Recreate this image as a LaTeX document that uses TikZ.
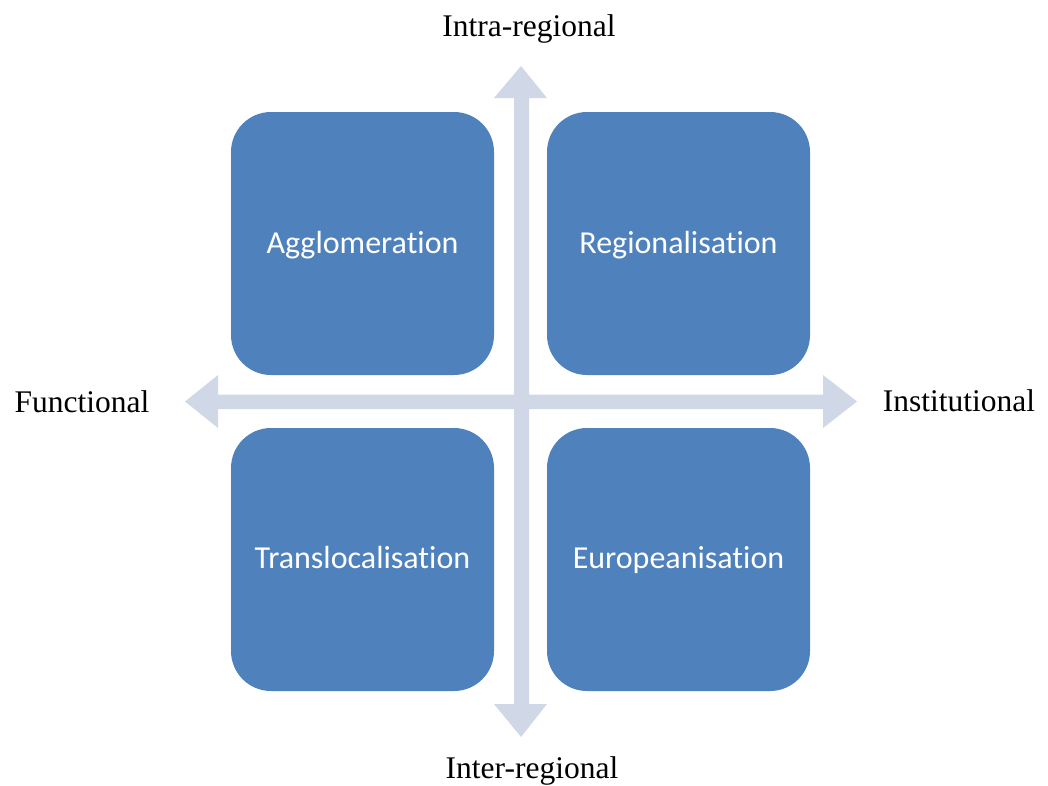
\documentclass[tikz,border=0pt]{standalone}
\usepackage{fontspec}
\setmainfont{Liberation Serif}
\newfontfamily\boxfont[Ligatures=NoCommon]{Carlito}
\definecolor{boxblue}{HTML}{4F81BD}
\definecolor{axisgray}{HTML}{D0D8E8}
\tikzset{
  quad/.style={fill=boxblue, draw=none, rounded corners=40pt, minimum width=263pt, minimum height=263pt, inner sep=0pt},
  quadtext/.style={anchor=base, inner sep=0pt, text=white, font=\boxfont\fontsize{32}{36}\selectfont},
  axislabel/.style={font=\fontsize{31.5}{36}\selectfont, inner sep=0pt},
  axisfill/.style={fill=axisgray, draw=none}
}
\begin{document}
\begin{tikzpicture}[x=1pt,y=-1pt]
\useasboundingbox (0,0) rectangle (1048,785);
% vertical arrow
\fill[axisfill] (521,66) -- (547,98) -- (529,98) -- (529,704) -- (547,704) -- (521,737) -- (494,704) -- (514,704) -- (514,98) -- (494,98) -- cycle;
% horizontal arrow
\fill[axisfill] (185,401.5) -- (218,375) -- (218,394.5) -- (823,394.5) -- (823,375) -- (857,401.5) -- (823,428) -- (823,409) -- (218,409) -- (218,428) -- cycle;
\node[quad] (agg) at (362.5,243.5) {};
\node[quad] (reg) at (678.5,243.5) {};
\node[quad] (trans) at (362.5,559.5) {};
\node[quad] (euro) at (678.5,559.5) {};
\node[quadtext] (aggt) at (362.5,253) {Agglomeration};
\node[quadtext] (regt) at (678.5,253) {Regionalisation};
\node[quadtext] (transt) at (362.5,568.5) {Translocalisation};
\node[quadtext] (eurot) at (678.5,568.5) {Europeanisation};
\node[axislabel, anchor=base] (intra) at (529,36) {Intra-regional};
\node[axislabel, anchor=base] (inter) at (532,778.5) {Inter-regional};
\node[axislabel] (func) at (82,402) {Functional};
\node[axislabel] (inst) at (959,401) {Institutional};
\end{tikzpicture}
\end{document}
